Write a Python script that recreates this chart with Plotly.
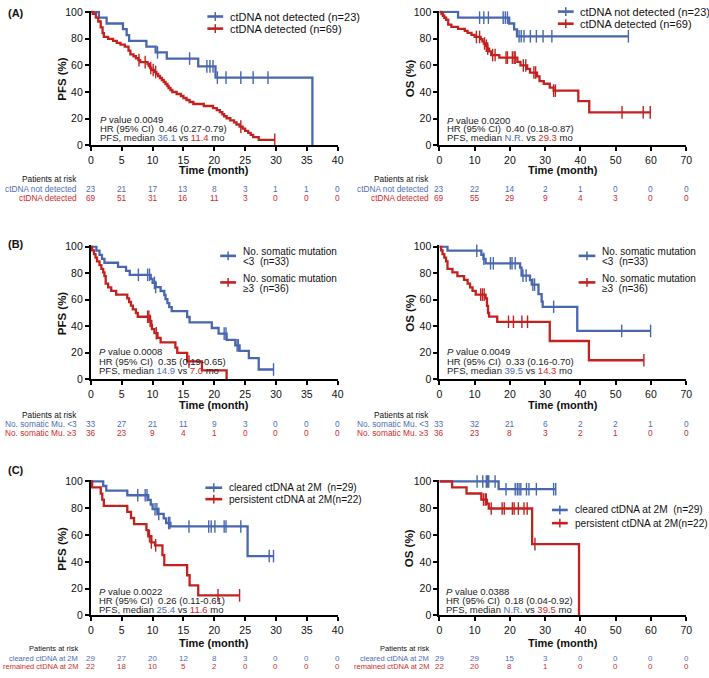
import plotly.graph_objects as go

W, H = 709, 678
FONT = "Liberation Sans"
BLUE = "#4867AF"
RED = "#C32020"
BLUE_T = "#4F6DB5"
RED_T = "#D12A2A"

# ---------------- data ----------------
# Panel A, PFS
a_pfs_blue_t = [1.3, 2.55, 5.2, 5.8, 6.2, 9.0, 10.5, 12.3, 17.4, 20.2, 35.9]
a_pfs_blue_s = [95.7, 91.3, 87.0, 82.6, 78.3, 73.9, 69.6, 65.0, 59.1, 50.7, 0]
a_pfs_blue_c = [10.8, 16.0, 18.8, 19.3, 19.8, 20.5, 21.9, 24.3, 26.3, 28.7]
a_pfs_red_t = [0.3, 0.8, 1.2, 1.6, 1.9, 2.1, 2.8, 3.6, 4.2, 4.8, 5.5, 6.1, 6.4, 6.9, 7.3, 7.7,
               8.0, 9.2, 9.4, 9.6, 9.8, 10.3, 10.6, 10.9, 11.2, 11.5, 11.8, 12.1, 12.4, 12.6,
               12.9, 13.2, 13.9, 14.6, 15.0, 15.5, 16.0, 16.6, 18.3, 19.8, 20.4, 20.9, 21.3,
               21.6, 22.0, 22.6, 23.2, 23.6, 24.1, 24.6, 25.0, 25.5, 25.9, 26.3, 27.2]
a_pfs_red_s = [98.6, 95.7, 92.8, 88.4, 84.1, 81.2, 79.7, 78.3, 76.8, 75.4, 74.0, 71.0, 68.1, 66.7,
               65.2, 63.8, 62.3, 60.9, 59.4, 57.9, 56.4, 54.9, 53.4, 51.9, 50.4, 48.9, 47.4, 45.9,
               44.4, 42.9, 41.4, 39.9, 38.4, 36.9, 35.4, 33.9, 32.4, 30.9, 29.4, 27.8, 26.3, 24.8,
               23.2, 21.7, 20.2, 18.6, 17.1, 15.5, 13.9, 12.4, 10.8, 9.2, 7.7, 6.0, 4.0]
a_pfs_red_c = [7.8, 8.8, 9.7, 10.1, 10.5, 24.3, 29.8]

# Panel A, OS
a_os_blue_t = [5.3, 19.8, 21.2, 22.0]
a_os_blue_s = [95.7, 91.3, 86.9, 81.7]
a_os_blue_c = [11.4, 12.6, 13.9, 18.1, 18.7, 19.3, 22.6, 23.2, 24.0, 25.8, 27.5, 29.4, 31.9, 53.6]
a_os_red_t = [0.6, 1.0, 1.4, 1.9, 2.5, 3.4, 5.3, 7.2, 8.0, 9.1, 10.0, 11.7, 12.2, 12.6, 13.1,
              13.6, 14.1, 14.7, 17.0, 22.1, 23.0, 24.9, 25.7, 27.7, 28.4, 29.6, 31.3, 32.4,
              39.4, 42.5]
a_os_red_s = [98.6, 97.1, 95.6, 94.1, 90.5, 88.7, 87.2, 85.7, 84.2, 82.7, 81.2, 79.6, 77.9, 76.3,
              74.6, 72.5, 70.4, 67.6, 65.7, 62.5, 59.8, 57.2, 54.5, 51.6, 48.0, 46.1, 43.2, 40.9,
              33.1, 24.6]
a_os_red_c = [10.5, 11.4, 12.8, 13.3, 13.7, 15.1, 15.8, 18.9, 19.3, 20.7, 21.2, 21.5, 23.8, 24.5,
              26.8, 27.3, 32.4, 32.9, 51.8, 57.8, 59.8]

# Panel B, PFS
b_pfs_blue_t = [0.9, 1.4, 1.8, 2.2, 4.4, 5.7, 6.3, 9.7, 10.0, 10.5, 11.3, 11.9, 12.1, 12.4, 12.7,
                13.1, 15.6, 16.0, 19.6, 20.7, 22.0, 23.4, 24.1, 25.6, 27.2]
b_pfs_blue_s = [97.0, 93.9, 90.9, 87.9, 84.8, 81.8, 78.8, 75.7, 72.7, 69.6, 66.6, 63.6, 60.5, 57.5,
                54.4, 51.4, 47.0, 42.9, 38.7, 34.5, 29.8, 25.6, 21.5, 16.0, 7.4]
b_pfs_blue_c = [7.7, 9.2, 9.5, 10.3, 10.5, 21.6, 21.9, 23.7, 23.9, 29.6]
b_pfs_red_t = [0.2, 0.5, 0.75, 1.0, 1.4, 1.7, 2.0, 2.2, 2.4, 2.8, 3.3, 4.1, 5.9, 6.2, 6.5, 6.8,
               7.3, 7.6, 9.6, 9.8, 9.9, 10.3, 10.8, 11.3, 13.7, 14.0, 15.6, 18.0, 22.0]
b_pfs_red_s = [97.2, 94.4, 91.7, 88.9, 86.1, 83.3, 80.6, 77.8, 72.2, 69.4, 66.7, 63.9, 61.1, 58.3,
               55.6, 52.8, 50.0, 47.2, 44.1, 41.1, 37.9, 34.8, 31.3, 27.8, 23.9, 20.0, 13.5, 6.8, 0]
b_pfs_red_c = [9.2, 9.4, 9.6, 10.6, 15.9]

# Panel B, OS
b_os_blue_t = [2.3, 11.9, 12.5, 13.1, 22.9, 23.3, 25.7, 26.2, 28.1, 29.0, 29.3, 39.1]
b_os_blue_s = [97.0, 93.9, 90.9, 87.5, 84.3, 78.2, 74.8, 71.4, 64.3, 58.6, 54.7, 36.5]
b_os_blue_c = [10.6, 12.6, 14.5, 15.3, 20.1, 20.6, 21.5, 23.7, 24.6, 26.5, 27.0, 32.4, 51.7, 59.9]
b_os_red_t = [0.5, 0.9, 1.4, 1.9, 2.3, 3.7, 5.1, 7.0, 8.0, 8.7, 9.4, 10.3, 13.1, 13.5, 13.8, 14.1,
              16.4, 31.3, 42.4]
b_os_red_s = [97.2, 94.4, 91.7, 88.9, 83.3, 80.6, 77.8, 75.0, 72.2, 69.4, 66.7, 63.9, 61.0, 55.4,
              50.0, 47.3, 43.4, 28.9, 14.4]
b_os_red_c = [11.7, 12.2, 12.7, 19.6, 21.0, 23.4, 25.0, 58.0]

# Panel C, PFS
c_pfs_blue_t = [2.0, 2.5, 5.9, 9.3, 9.7, 10.0, 10.9, 11.8, 12.2, 12.9, 25.4]
c_pfs_blue_s = [96.6, 93.1, 89.7, 86.2, 82.8, 79.3, 75.8, 72.4, 69.0, 66.4, 44.3]
c_pfs_blue_c = [7.6, 8.8, 9.1, 10.4, 10.7, 11.0, 12.6, 12.8, 15.9, 19.1, 19.5, 20.1, 21.6, 21.9,
                24.3, 28.9, 29.6]
c_pfs_red_t = [0.2, 1.6, 1.85, 2.1, 5.9, 6.5, 7.0, 9.0, 9.3, 9.8, 10.4, 11.6, 11.9, 15.6, 16.0, 17.4]
c_pfs_red_s = [95.5, 90.9, 86.4, 81.8, 77.3, 72.7, 68.2, 63.6, 59.1, 54.5, 52.3, 45.0, 37.5, 30.0,
               22.5, 15.0]
c_pfs_red_c = [9.5, 9.8, 10.5, 20.6, 24.1]

# Panel C, OS
c_os_blue_t = [16.8]
c_os_blue_s = [94.2]
c_os_blue_c = [10.7, 12.3, 13.3, 13.7, 14.0, 15.8, 18.9, 21.5, 22.1, 22.6, 23.1, 24.7, 25.4, 27.5,
               32.4, 33.0]
c_os_red_t = [3.6, 7.7, 11.9, 13.5, 14.0, 26.3, 39.6]
c_os_red_s = [95.5, 91.0, 86.5, 83.5, 79.8, 53.2, 0]
c_os_red_c = [12.5, 13.0, 13.3, 14.7, 17.8, 18.4, 20.7, 21.2, 22.4, 24.0, 24.9, 27.1]

# risk tables
a_pfs_risk_blue = [23, 21, 17, 13, 8, 3, 1, 1, 0]
a_pfs_risk_red = [69, 51, 31, 16, 11, 3, 0, 0, 0]
a_os_risk_blue = [23, 22, 14, 2, 1, 0, 0, 0]
a_os_risk_red = [69, 55, 29, 9, 4, 3, 0, 0]
b_pfs_risk_blue = [33, 27, 21, 11, 9, 3, 0, 0, 0]
b_pfs_risk_red = [36, 23, 9, 4, 1, 0, 0, 0, 0]
b_os_risk_blue = [33, 32, 21, 6, 2, 2, 1, 0]
b_os_risk_red = [36, 23, 8, 3, 2, 1, 0, 0]
c_pfs_risk_blue = [29, 27, 20, 12, 8, 3, 0, 0, 0]
c_pfs_risk_red = [22, 18, 10, 5, 2, 0, 0, 0, 0]
c_os_risk_blue = [29, 29, 15, 3, 0, 0, 0, 0]
c_os_risk_red = [22, 20, 8, 1, 0, 0, 0, 0]

pfs_ticks = [0, 5, 10, 15, 20, 25, 30, 35, 40]
os_ticks = [0, 10, 20, 30, 40, 50, 60, 70]
y_ticks = [0, 20, 40, 60, 80, 100]

# ---------------- helpers ----------------
def px_x(p):
    return p / W

def px_y(p):
    return 1 - p / H

def step_xy(t, s, c):
    xs = [0] + list(t)
    ys = [100] + list(s)
    end = max(list(t) + list(c))
    if end > xs[-1]:
        xs.append(end)
        ys.append(ys[-1])
    return xs, ys

def surv_at(t, s, x):
    v = 100
    for ti, si in zip(t, s):
        if ti <= x:
            v = si
    return v

YMAX = 101
STAT_FS = 9.5

panels = [
    dict(ax="", xpx=(89, 339), ypx=(7, 142.5), xmax=40, ticks=pfs_ticks, ytitle="PFS (%)",
         curves=[(a_pfs_blue_t, a_pfs_blue_s, a_pfs_blue_c, BLUE), (a_pfs_red_t, a_pfs_red_s, a_pfs_red_c, RED)],
         ytx=59, ttl_y=168,
         legend=dict(rows=[(11.7, ["ctDNA not detected (n=23)"]), (24, ["ctDNA detected (n=69)"])],
                     sym=(207, 223), tx=228, fs=11),
         stats=dict(x=96.5, ys=(116, 125.5, 135), p="0.0049", hr="0.46 (0.27-0.79)", m1="36.1", m2="11.4"),
         risk=dict(ys=(177, 187, 196), lx=77, fs=8.3, lfs=8.3, labels=("ctDNA not detected", "ctDNA detected"),
                   blue=a_pfs_risk_blue, red=a_pfs_risk_red)),
    dict(ax="2", xpx=(442, 692), ypx=(7, 142.5), xmax=70, ticks=os_ticks, ytitle="OS (%)",
         curves=[(a_os_blue_t, a_os_blue_s, a_os_blue_c, BLUE), (a_os_red_t, a_os_red_s, a_os_red_c, RED)],
         ytx=412, ttl_y=168,
         legend=dict(rows=[(6.7, ["ctDNA not detected (n=23)"]), (19, ["ctDNA detected (n=69)"])],
                     sym=(562, 578), tx=582, fs=11),
         stats=dict(x=448, ys=(117, 126, 135), p="0.0200", hr="0.40 (0.18-0.87)", m1="N.R.", m2="29.3"),
         risk=dict(ys=(177, 187, 196), lx=433, fs=8.3, lfs=8.3, labels=("ctDNA not detected", "ctDNA detected"),
                   blue=a_os_risk_blue, red=a_os_risk_red)),
    dict(ax="3", xpx=(89, 339), ypx=(245.7, 380.5), xmax=40, ticks=pfs_ticks, ytitle="PFS (%)",
         curves=[(b_pfs_blue_t, b_pfs_blue_s, b_pfs_blue_c, BLUE), (b_pfs_red_t, b_pfs_red_s, b_pfs_red_c, RED)],
         ytx=60, ttl_y=407,
         legend=dict(rows=[(255, ["No. somatic mutation", "&lt;3  (n=33)"]), (282, ["No. somatic mutation", "≥3  (n=36)"])],
                     sym=(220, 236), tx=241, fs=10),
         stats=dict(x=95, ys=(352.7, 362.2, 371.7), p="0.0008", hr="0.35 (0.19-0.65)", m1="14.9", m2="7.0"),
         risk=dict(ys=(417, 426, 435), lx=77, fs=8.3, lfs=8.3, labels=("No. somatic Mu. &lt;3", "No. somatic Mu. ≥3"),
                   blue=b_pfs_risk_blue, red=b_pfs_risk_red)),
    dict(ax="4", xpx=(442, 692), ypx=(245.7, 380.5), xmax=70, ticks=os_ticks, ytitle="OS (%)",
         curves=[(b_os_blue_t, b_os_blue_s, b_os_blue_c, BLUE), (b_os_red_t, b_os_red_s, b_os_red_c, RED)],
         ytx=412, ttl_y=407,
         legend=dict(rows=[(255, ["No. somatic mutation", "&lt;3  (n=33)"]), (282, ["No. somatic mutation", "≥3  (n=36)"])],
                     sym=(583, 600), tx=605, fs=10),
         stats=dict(x=448, ys=(352.7, 362.2, 371.7), p="0.0049", hr="0.33 (0.16-0.70)", m1="39.5", m2="14.3"),
         risk=dict(ys=(417, 426, 435), lx=433, fs=8.3, lfs=8.3, labels=("No. somatic Mu. &lt;3", "No. somatic Mu. ≥3"),
                   blue=b_os_risk_blue, red=b_os_risk_red)),
    dict(ax="5", xpx=(89, 339), ypx=(484.3, 620.5), xmax=40, ticks=pfs_ticks, ytitle="PFS (%)",
         curves=[(c_pfs_blue_t, c_pfs_blue_s, c_pfs_blue_c, BLUE), (c_pfs_red_t, c_pfs_red_s, c_pfs_red_c, RED)],
         ytx=60, ttl_y=649,
         legend=dict(rows=[(490.7, ["cleared ctDNA at 2M  (n=29)"]), (502.3, ["persistent ctDNA at 2M(n=22)"])],
                     sym=(205, 222), tx=227, fs=10.1),
         stats=dict(x=95, ys=(595.7, 605, 614), p="0.0022", hr="0.26 (0.11-0.61)", m1="25.4", m2="11.6"),
         risk=dict(ys=(654.5, 663.8, 672.3), lx=78, fs=7.9, lfs=7.5, labels=("cleared ctDNA at 2M", "remained ctDNA at 2M"),
                   blue=c_pfs_risk_blue, red=c_pfs_risk_red)),
    dict(ax="6", xpx=(442, 692), ypx=(484.3, 620.5), xmax=70, ticks=os_ticks, ytitle="OS (%)",
         curves=[(c_os_blue_t, c_os_blue_s, c_os_blue_c, BLUE), (c_os_red_t, c_os_red_s, c_os_red_c, RED)],
         ytx=412, ttl_y=649,
         legend=dict(rows=[(513.3, ["cleared ctDNA at 2M  (n=29)"]), (526.7, ["persistent ctDNA at 2M(n=22)"])],
                     sym=(556, 572), tx=577, fs=10.1),
         stats=dict(x=447, ys=(595.7, 605, 614), p="0.0388", hr="0.18 (0.04-0.92)", m1="N.R.", m2="39.5"),
         risk=dict(ys=(654.5, 663.8, 672.3), lx=433, fs=7.9, lfs=7.5, labels=("cleared ctDNA at 2M", "remained ctDNA at 2M"),
                   blue=c_os_risk_blue, red=c_os_risk_red)),
]

fig = go.Figure()
layout = dict(width=W, height=H, margin=dict(l=0, r=0, t=0, b=0), plot_bgcolor="white",
              paper_bgcolor="white", showlegend=False, font=dict(family=FONT, color="#111"))
annotations = []
shapes = []

for p in panels:
    ax = p["ax"]
    xref = "x" + ax
    yref = "y" + ax
    x0p, x1p = p["xpx"]
    top100, bot0 = p["ypx"]
    hp = (bot0 - top100) / 100.0
    top_px = top100 - (YMAX - 100) * hp
    axis_common = dict(showline=True, linewidth=2, linecolor="black", ticks="outside", ticklen=4,
                       tickwidth=1.5, tickcolor="black", showgrid=False, zeroline=False,
                       tickfont=dict(family=FONT, size=10.5, color="#111"))
    layout["xaxis" + ax] = dict(domain=[px_x(x0p), px_x(x1p)], range=[0, p["xmax"]], tickvals=p["ticks"],
                                anchor="y" + ax, **axis_common)
    layout["yaxis" + ax] = dict(domain=[px_y(bot0), px_y(top_px)], range=[0, YMAX], tickvals=y_ticks,
                                anchor="x" + ax, **axis_common)

    for (t, s, c, col) in p["curves"]:
        xs, ys = step_xy(t, s, c)
        fig.add_trace(go.Scatter(x=xs, y=ys, mode="lines", line=dict(color=col, width=2.3, shape="hv"),
                                 xaxis=xref, yaxis=yref, hoverinfo="skip"))
        fig.add_trace(go.Scatter(x=list(c), y=[surv_at(t, s, ci) for ci in c], mode="markers",
                                 marker=dict(symbol="line-ns", size=9, line=dict(color=col, width=1.4)),
                                 xaxis=xref, yaxis=yref, hoverinfo="skip", cliponaxis=False))

    # axis titles
    annotations.append(dict(text="<b>" + p["ytitle"] + "</b>", x=px_x(p["ytx"]), y=px_y((top100 + bot0) / 2),
                            xref="paper", yref="paper", showarrow=False, textangle=-90,
                            font=dict(family=FONT, size=11.5, color="#111"), xanchor="center", yanchor="middle"))
    annotations.append(dict(text="<b>Time (month)</b>", x=px_x((x0p + x1p) / 2), y=px_y(p["ttl_y"]),
                            xref="paper", yref="paper", showarrow=False,
                            font=dict(family=FONT, size=11, color="#111"), xanchor="center", yanchor="middle"))

    # legend
    lg = p["legend"]
    cols = [BLUE, RED]
    for i, (ry, lines) in enumerate(lg["rows"]):
        col = cols[i]
        sx0, sx1 = lg["sym"]
        shapes.append(dict(type="line", xref="paper", yref="paper", x0=px_x(sx0), x1=px_x(sx1),
                           y0=px_y(ry), y1=px_y(ry), line=dict(color=col, width=2.6)))
        shapes.append(dict(type="line", xref="paper", yref="paper", x0=px_x((sx0 + sx1) / 2), x1=px_x((sx0 + sx1) / 2),
                           y0=px_y(ry - 4.5), y1=px_y(ry + 4.5), line=dict(color=col, width=1.5)))
        if len(lines) == 1:
            tys = [ry]
        else:
            tys = [ry - 4, ry + 6]
        for ln, ty in zip(lines, tys):
            annotations.append(dict(text=ln, x=px_x(lg["tx"]), y=px_y(ty), xref="paper", yref="paper",
                                    showarrow=False, xanchor="left", yanchor="middle",
                                    font=dict(family=FONT, size=lg["fs"], color="#111")))

    # stats
    st = p["stats"]
    stat_lines = [
        "<i>P</i> value " + st["p"],
        "HR (95% CI)\u00a0\u00a0" + st["hr"],
        "PFS, median <span style='color:%s'>%s</span> vs <span style='color:%s'>%s</span> mo"
        % (BLUE_T, st["m1"], RED_T, st["m2"]),
    ]
    for ln, ty in zip(stat_lines, st["ys"]):
        annotations.append(dict(text=ln, x=px_x(st["x"]), y=px_y(ty), xref="paper", yref="paper",
                                showarrow=False, xanchor="left", yanchor="middle",
                                font=dict(family=FONT, size=STAT_FS, color="#222")))

    # risk table
    rk = p["risk"]
    fs = rk["fs"]
    lfs = rk["lfs"]
    hy, r1, r2 = rk["ys"]
    annotations.append(dict(text="Patients at risk", x=px_x(rk["lx"]), y=px_y(hy), xref="paper", yref="paper",
                            showarrow=False, xanchor="right", yanchor="middle",
                            font=dict(family=FONT, size=lfs, color="#111")))
    for lab, ry, vals, col in [(rk["labels"][0], r1, rk["blue"], BLUE_T), (rk["labels"][1], r2, rk["red"], RED_T)]:
        annotations.append(dict(text=lab, x=px_x(rk["lx"]), y=px_y(ry), xref="paper", yref="paper",
                                showarrow=False, xanchor="right", yanchor="middle",
                                font=dict(family=FONT, size=lfs, color=col)))
        for tv, v in zip(p["ticks"], vals):
            annotations.append(dict(text=str(v), x=tv, y=px_y(ry), xref=xref, yref="paper",
                                    showarrow=False, xanchor="center", yanchor="middle",
                                    font=dict(family=FONT, size=fs, color=col)))

# panel letters
for lab, py in [("(A)", 8), ("(B)", 243), ("(C)", 473)]:
    annotations.append(dict(text="<b>" + lab + "</b>", x=px_x(3), y=px_y(py), xref="paper", yref="paper",
                            showarrow=False, xanchor="left", yanchor="middle",
                            font=dict(family=FONT, size=11, color="#111")))

layout["annotations"] = annotations
layout["shapes"] = shapes
fig.update_layout(**layout)
fig.write_html("out.html", config={"displayModeBar": False},
               post_script="document.body.style.margin='0px';document.body.style.overflow='hidden';")
